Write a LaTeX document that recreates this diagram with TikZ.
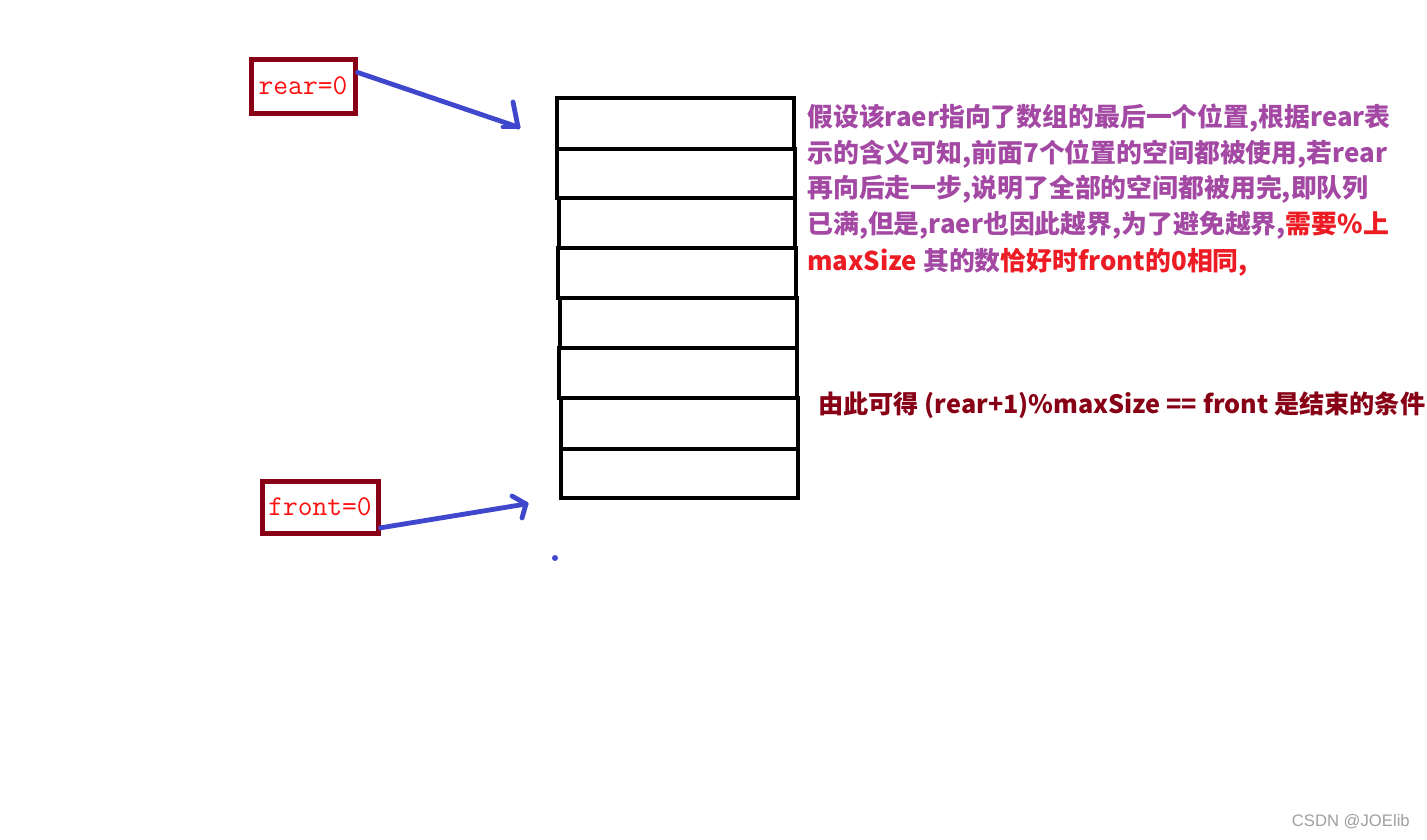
\documentclass[tikz,border=0pt]{standalone}
\usepackage{fontspec}
\newfontfamily\cjk{Noto Sans CJK SC}
\setsansfont{Liberation Sans}
\usetikzlibrary{fit}
\definecolor{dred}{HTML}{880015}
\definecolor{pblue}{HTML}{3F48CC}
\definecolor{ppurple}{HTML}{A349A4}
\definecolor{pred}{HTML}{ED1C24}
\definecolor{tred}{HTML}{FF1010}
\definecolor{wgray}{HTML}{A0A0A0}
\begin{document}
\begin{tikzpicture}[x=0.75pt,y=-0.75pt,
  cell/.style={draw=black, line width=3pt, inner sep=0pt},
  varbox/.style={draw=dred, line width=3.75pt, inner sep=0pt, text=tred, font=\ttfamily\fontsize{21.5}{21.5}\selectfont},
  arr/.style={draw=pblue, line width=3.6pt, line cap=round, line join=round},
  txt/.style={anchor=west, inner sep=0pt, font=\cjk\bfseries\fontsize{19.4}{19.4}\selectfont},
  ]
\useasboundingbox[fill=white] (0,0) rectangle (1427,839);

% queue cells
\node[cell, fit={(557,98)(794,149)}] (c1) {};
\node[cell, fit={(557,149)(795,198)}] (c2) {};
\node[cell, fit={(559,198)(795,248)}] (c3) {};
\node[cell, fit={(558,248)(796,298)}] (c4) {};
\node[cell, fit={(560,298)(797,348)}] (c5) {};
\node[cell, fit={(559,348)(797,398)}] (c6) {};
\node[cell, fit={(561,398)(798,449)}] (c7) {};
\node[cell, fit={(561,449)(798,498)}] (c8) {};

% pointer boxes
\node[varbox, minimum width=78pt, minimum height=40.5pt] (rear) at (303,86) {rear=0};
\node[varbox, minimum width=87pt, minimum height=39pt] (front) at (320,507) {front=0};

% arrows
\coordinate (rt) at (518,127);
\coordinate (ft) at (526,504);
\draw[arr] (rear.14) -- (rt);
\draw[arr] (rt) -- ++(-5,-25);
\draw[arr] (rt) -- ++(-15,0);
\draw[arr] (front.-19) -- (ft);
\draw[arr] (ft) -- ++(-14,-8);
\draw[arr] (ft) -- ++(-4,14);
\fill[pblue] (555,558) circle (3);

% explanation
\begin{scope}[every node/.style={txt, text=ppurple}]
\node (l1) at (807,118) {假设该raer指向了数组的最后一个位置,根据rear表};
\node (l2) at (807,154) {示的含义可知,前面7个位置的空间都被使用,若rear};
\node (l3) at (807,189) {再向后走一步,说明了全部的空间都被用完,即队列};
\node (l4) at (807,225) {已满,但是,raer也因此越界,为了避免越界,\textcolor{pred}{需要\%上}};
\node (l5) at (807,262) {\textcolor{pred}{maxSize} 其的数\textcolor{pred}{恰好时front的0相同,}};
\end{scope}
\node[txt, text=dred, font=\cjk\bfseries\fontsize{18.9}{18.9}\selectfont] (concl) at (818,405) {由此可得 (rear+1)\%maxSize == front 是结束的条件};

\node[anchor=east, inner sep=0pt, text=wgray, font=\sffamily\fontsize{12.5}{12.5}\selectfont] (wm) at (1410,822) {CSDN @JOElib};
\end{tikzpicture}
\end{document}
